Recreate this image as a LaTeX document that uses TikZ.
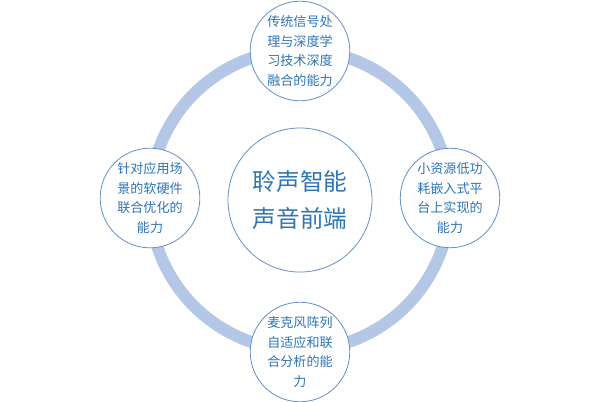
\documentclass[tikz,border=0pt]{standalone}
\usepackage{fontspec}
\setmainfont{Noto Sans CJK SC}
\usetikzlibrary{positioning}
\definecolor{ringblue}{HTML}{B4C7E7}
\definecolor{textblue}{HTML}{2E75B6}
\definecolor{edgeblue}{HTML}{6A93C6}
\begin{document}
\begin{tikzpicture}[x=0.025cm, y=-0.025cm,
		skill/.style={circle, draw=edgeblue, line width=0.6pt, fill=white, minimum size=2.4cm, inner sep=0pt, text width=1.75cm, align=center, text=textblue, font=\fontsize{9.3}{14}\selectfont},
		core/.style={circle, draw=edgeblue, line width=0.6pt, fill=white, minimum size=3.6cm, inner sep=0pt, text width=2.6cm, align=center, text=textblue, font=\fontsize{16.8}{26}\selectfont}]
			\useasboundingbox (0,0) rectangle (600,402);
			\coordinate (hub) at (300,200);
			\draw [ringblue, line width=0.3cm] (hub) circle (3.75cm);
			\node [core] (front) at (hub) {聆声智能\\声音前端};
			\node [skill] (fusion) at (300,51) {传统信号处\\理与深度学\\习技术深度\\融合的能力};
			\node [skill] (lowpower) at (450,198) {小资源低功\\耗嵌入式平\\台上实现的\\能力};
			\node [skill] (micarray) at (300,352) {麦克风阵列\\自适应和联\\合分析的能\\力};
			\node [skill] (codesign) at (150,198) {针对应用场\\景的软硬件\\联合优化的\\能力};
		\end{tikzpicture}
\end{document}
